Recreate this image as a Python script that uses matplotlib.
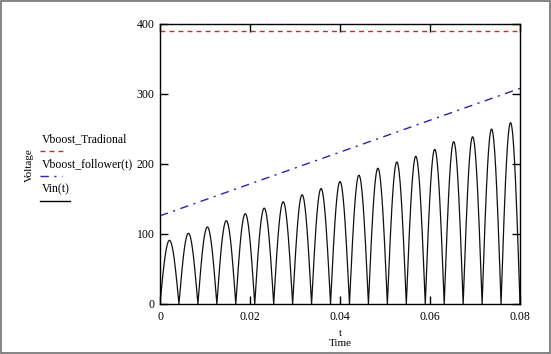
import numpy as np
import matplotlib
matplotlib.use('Agg')
import matplotlib.pyplot as plt
from matplotlib.patches import Rectangle

plt.rcParams['font.family'] = ['Liberation Serif', 'DejaVu Serif']

# data
t_end = 0.08
vin_peaks = [91, 101, 110, 119, 129, 137, 146, 156, 165, 175,
             184, 194, 203, 211, 221, 232, 239, 250, 259]
vboost_trad = 390
follower_t = [0.0, 0.08]
follower_v = [126, 308]
xticks = [0, 0.02, 0.04, 0.06, 0.08]
xtick_labels = ['0', '0.02', '0.04', '0.06', '0.08']
yticks = [0, 100, 200, 300, 400]

red = '#e02020'
blue = '#2828a0'

W, H = 551, 354
fig = plt.figure(figsize=(W / 100, H / 100), dpi=100, facecolor='white')
ax = fig.add_axes([160 / W, (H - 304) / H, 360 / W, 280 / H])

# Vin(t): rectified sine, one hump per half period
n = len(vin_peaks)
half = t_end / n
tt = []
vv = []
for k, pk in enumerate(vin_peaks):
    s = np.linspace(0, 1, 40)
    tt.extend(k * half + s * half)
    vv.extend(pk * np.sin(np.pi * s))
ax.plot(tt, vv, color='#101010', lw=0.9)

ax.plot([0, t_end], [vboost_trad, vboost_trad], color=red, lw=1.0,
        dashes=(3.5, 3))
ax.plot(follower_t, follower_v, color=blue, lw=1.0, dashes=(6, 4, 1.5, 4))

ax.set_xlim(0, t_end)
ax.set_ylim(0, 400)
ax.set_xticks(xticks)
ax.set_xticklabels(xtick_labels)
ax.set_yticks(yticks)
ax.tick_params(axis='both', direction='in', length=6, width=1, labelsize=8.5,
               top=True, right=True, pad=4)
ax.tick_params(axis='x', pad=5)
for sp in ax.spines.values():
    sp.set_linewidth(1.0)

# axis titles
fig.text(340 / W, 1 - 334 / H, 't', fontsize=8, ha='center', va='center')
fig.text(340 / W, 1 - 344 / H, 'Time', fontsize=8, ha='center', va='center')
fig.text(29 / W, 1 - 165 / H, 'Voltage', fontsize=8, ha='center', va='center',
         rotation=90)

# legend, Mathcad style
fig.text(42 / W, 1 - 139 / H, 'Vboost_Tradional', fontsize=8.5, va='center')
fig.add_artist(plt.Line2D([40 / W, 66 / W], [1 - 151 / H] * 2, color=red,
                          lw=1.0, dashes=(3.5, 3)))
fig.text(42 / W, 1 - 164 / H, 'Vboost_follower(t)', fontsize=8.5, va='center')
fig.add_artist(plt.Line2D([40 / W, 62 / W], [1 - 176 / H] * 2, color=blue,
                          lw=1.0, dashes=(6, 4, 1.5, 4)))
fig.text(42 / W, 1 - 189 / H, 'Vin(t)', fontsize=8.5, va='center')
fig.add_artist(plt.Line2D([40 / W, 70 / W], [1 - 201 / H] * 2, color='black',
                          lw=1.0))

# outer frame
fig.add_artist(Rectangle((0.002, 0.003), 0.996, 0.994, transform=fig.transFigure,
                         fill=False, edgecolor='#707070', lw=1.2))

fig.savefig('out.png', dpi=100)
